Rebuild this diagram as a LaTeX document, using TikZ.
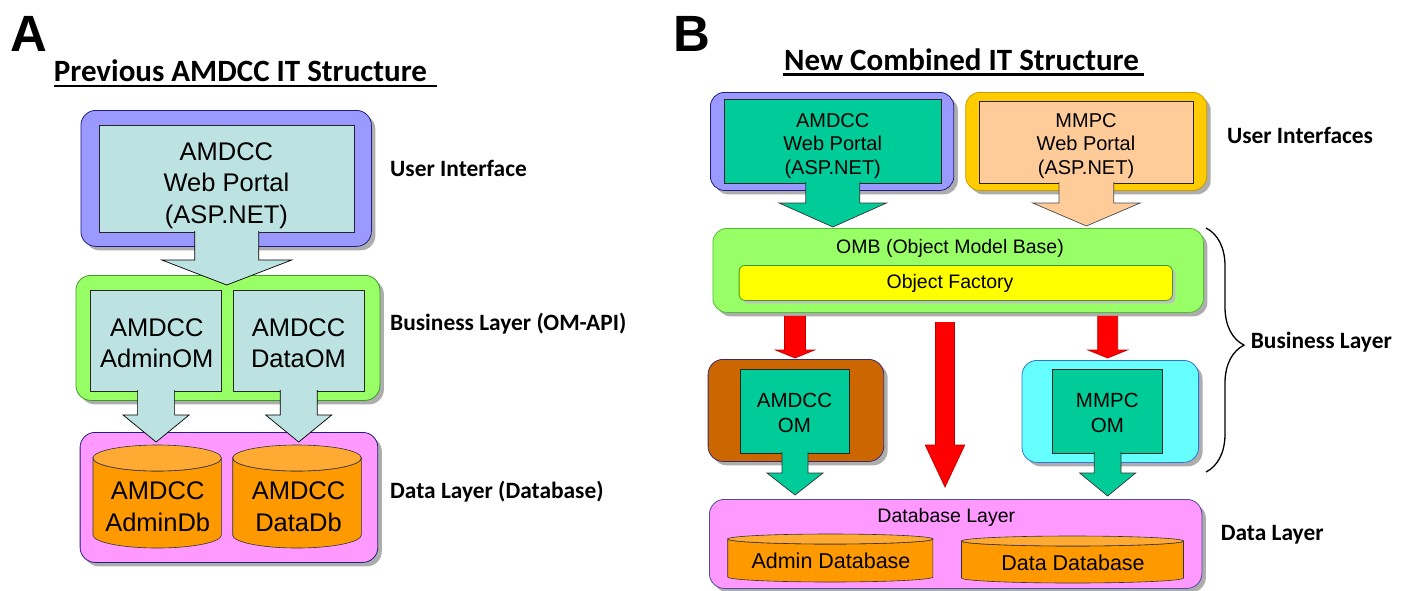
\documentclass[tikz,border=0pt]{standalone}
\usepackage{fontspec}
\setmainfont{Liberation Sans}
\newfontfamily\calib{Carlito}
\usetikzlibrary{calc,shadows,decorations.pathreplacing}
\definecolor{blueF}{HTML}{9999FF}
\definecolor{navy}{HTML}{1F1F80}
\definecolor{lcyan}{HTML}{BCE2E2}
\definecolor{grn}{HTML}{99FF66}
\definecolor{grnD}{HTML}{3C9A2A}
\definecolor{grnL}{HTML}{55BB33}
\definecolor{pinkF}{HTML}{FF99FF}
\definecolor{orng}{HTML}{FF9900}
\definecolor{orngL}{HTML}{FFAA33}
\definecolor{tealB}{HTML}{00CC99}
\definecolor{goldF}{HTML}{FFCC00}
\definecolor{goldD}{HTML}{CC9900}
\definecolor{peach}{HTML}{FFCC99}
\definecolor{yel}{HTML}{FFFF00}
\definecolor{brownF}{HTML}{CC6600}
\definecolor{purpD}{HTML}{3A2A6A}
\definecolor{cyanF}{HTML}{66FFFF}
\definecolor{cyanD}{HTML}{3377CC}
\definecolor{redA}{HTML}{FF0000}
% block arrow: fill, outline, from (y used), tip, shaft half width, head half width, head length
\newcommand\barrow[7]{%
  \fill[#1] let \p1=(#3), \p2=(#4) in (\x2-#5,\y1) -- (\x2-#5,\y2+#7) -- (\x2-#6,\y2+#7) -- (\x2,\y2) -- (\x2+#6,\y2+#7) -- (\x2+#5,\y2+#7) -- (\x2+#5,\y1) -- cycle;
  \draw[#2, line width=0.7pt, line join=miter] let \p1=(#3), \p2=(#4) in (\x2-#5,\y1) -- (\x2-#5,\y2+#7) -- (\x2-#6,\y2+#7) -- (\x2,\y2) -- (\x2+#6,\y2+#7) -- (\x2+#5,\y2+#7) -- (\x2+#5,\y1);}
% database cylinder: cx, y top centre, y bottom centre, rx, ry
\newcommand\dbcyl[5]{%
  \filldraw[fill=orng, draw=black!80, line width=0.6pt] (#1-#4,#2) -- (#1-#4,#3) arc[start angle=180,end angle=360,x radius=#4pt,y radius=#5pt] -- (#1+#4,#2) arc[start angle=0,end angle=-180,x radius=#4pt,y radius=#5pt] -- cycle;
  \filldraw[fill=orngL, draw=black!80, line width=0.6pt] (#1,#2) ellipse[x radius=#4pt, y radius=#5pt];}
\begin{document}
\begin{tikzpicture}[x=1pt,y=-1pt,
  frm/.style={draw, line width=0.8pt, rounded corners=15pt, anchor=north west, inner sep=0pt},
  shd/.style={drop shadow={opacity=1, fill=black!32, shadow xshift=4pt, shadow yshift=-4pt}},
  inbox/.style={draw=black!85, line width=0.7pt, anchor=north west, inner sep=0pt},
  tA/.style={align=center, inner sep=0pt, anchor=north, font=\fontsize{25.5}{31.5}\selectfont},
  tBui/.style={align=center, inner sep=0pt, anchor=north, font=\fontsize{20}{23.3}\selectfont},
  tBom/.style={align=center, inner sep=0pt, anchor=north, font=\fontsize{20.5}{25}\selectfont},
  tB/.style={inner sep=0pt, anchor=base, font=\fontsize{19.5}{22}\selectfont},
  tBdb/.style={inner sep=0pt, anchor=base, font=\fontsize{21.5}{24}\selectfont},
  lab/.style={inner sep=0pt, anchor=base west, font=\calib\bfseries\fontsize{23.4}{26}\selectfont},
  ttl/.style={inner sep=0pt, anchor=base west, font=\calib\bfseries\fontsize{31}{34}\selectfont},
  big/.style={inner sep=0pt, anchor=base west, font=\bfseries\fontsize{51}{55}\selectfont},
]
\useasboundingbox (0,0) rectangle (1411,590);

% ================= Panel A =================
\node[big] (labA) at (10.5,51.7) {A};
\node[ttl] (titA) at (53.7,81.7) {Previous AMDCC IT Structure};
\draw[line width=2.6pt] (53.7,85.8) -- (437,85.8);

\node[frm, shd, fill=blueF, draw=navy, minimum width=290.5pt, minimum height=136pt] (uiA) at (80.5,110) {};
\node[frm, shd, fill=grn, draw=grnD, minimum width=304pt, minimum height=125pt] (bizA) at (75.5,275) {};
\node[frm, shd, fill=pinkF, draw=navy, minimum width=297.7pt, minimum height=130pt] (dbA) at (79.7,432) {};
\node[inbox, fill=lcyan, minimum width=255.8pt, minimum height=107pt] (uiAin) at (98.5,125) {};
\node[inbox, fill=lcyan, minimum width=131.3pt, minimum height=101pt] (admOM) at (90.1,290) {};
\node[inbox, fill=lcyan, minimum width=131.3pt, minimum height=101pt] (datOM) at (232.7,290) {};
\dbcyl{157.2}{458}{535}{64.2}{13}
\dbcyl{297}{458}{535}{64.3}{13}

\coordinate (a1s) at ($(uiAin.south)+(0,-1.5)$);
\coordinate (a1t) at ($(uiAin.south |- bizA.north)+(0,10)$);
\barrow{lcyan}{black}{a1s}{a1t}{32pt}{65pt}{25pt}
\coordinate (a2s) at ($(admOM.south)+(0,-1.5)$);
\coordinate (a2t) at ($(admOM.south |- dbA.north)+(0,10)$);
\barrow{lcyan}{black}{a2s}{a2t}{18.5pt}{33pt}{27pt}
\coordinate (a3s) at ($(datOM.south)+(0,-1.5)$);
\coordinate (a3t) at ($(datOM.south |- dbA.north)+(0,10)$);
\barrow{lcyan}{black}{a3s}{a3t}{18.5pt}{33pt}{27pt}

\node[tA] (uiAt) at (226.4,142) {AMDCC\\Web Portal\\(ASP.NET)};
\node[tA] (admT) at (156.8,318.3) {AMDCC\\AdminOM};
\node[tA] (datT) at (298.5,318.3) {AMDCC\\DataOM};
\node[tA] (admDbT) at (157.7,481.7) {AMDCC\\AdminDb};
\node[tA] (datDbT) at (298.5,481.7) {AMDCC\\DataDb};
\node[lab] (lUIA) at (390,176.7) {User Interface};
\node[lab] (lBLA) at (390,330.7) {Business Layer (OM-API)};
\node[lab] (lDLA) at (390,498.3) {Data Layer (Database)};

% ================= Panel B =================
\node[big] (labB) at (673,51.7) {B};
\node[ttl] (titB) at (784,70.7) {New Combined IT Structure};
\draw[line width=2.7pt] (783,74.8) -- (1144.3,74.8);

\node[frm, shd, rounded corners=14pt, fill=blueF, draw=navy, minimum width=243.4pt, minimum height=98pt] (uiB) at (710,92) {};
\node[frm, shd, rounded corners=14pt, fill=goldF, draw=goldD, minimum width=241pt, minimum height=98pt] (mmB) at (965.3,92) {};
\node[inbox, fill=tealB, minimum width=216.1pt, minimum height=84pt] (uiBin) at (724.4,99) {};
\node[inbox, fill=peach, minimum width=214.7pt, minimum height=82pt] (mmBin) at (978.7,101) {};
\node[frm, shd, rounded corners=14pt, fill=grn, draw=grnL, minimum width=490.5pt, minimum height=84pt] (omb) at (712.5,228) {};
\node[frm, rounded corners=6pt, fill=yel, draw=grnD, minimum width=433.3pt, minimum height=35pt,
      drop shadow={opacity=1, fill=black!25, shadow xshift=3pt, shadow yshift=-3pt}] (fac) at (738.7,265) {};

\coordinate (b1s) at ($(uiBin.south)+(0,-1.5)$);
\coordinate (b1t) at ($(uiBin.south |- omb.north)+(0,-1)$);
\barrow{tealB}{black!80}{b1s}{b1t}{27pt}{53.7pt}{24pt}
\coordinate (b2s) at ($(mmBin.south)+(0,-1.5)$);
\coordinate (b2t) at ($(mmBin.south |- omb.north)+(0,-2)$);
\barrow{peach}{black!70}{b2s}{b2t}{27.4pt}{53.7pt}{23pt}

\node[frm, shd, fill=brownF, draw=purpD, minimum width=175.6pt, minimum height=102pt] (amOM) at (707.7,359) {};
\node[frm, shd, fill=cyanF, draw=cyanD, minimum width=176.6pt, minimum height=102pt] (mmOM) at (1021.6,360) {};
\node[inbox, fill=tealB, minimum width=109.4pt, minimum height=84pt] (amOMin) at (740,369) {};
\node[inbox, fill=tealB, minimum width=110.2pt, minimum height=84pt] (mmOMin) at (1052.2,369) {};
\node[frm, shd, fill=pinkF, draw=navy!80, minimum width=492.5pt, minimum height=89pt] (dbB) at (709,499) {};
\dbcyl{830.3}{539}{577}{102.6}{5}
\dbcyl{1072.5}{541}{578}{111}{5}

\coordinate (r1s) at ($(amOMin.north |- omb.south)+(0,3)$);
\coordinate (r1t) at ($(amOMin.north |- amOM.north)+(0,-1)$);
\barrow{redA}{red!75!black}{r1s}{r1t}{10.5pt}{19.5pt}{8pt}
\coordinate (r2s) at (945,322);
\coordinate (r2t) at (945,487);
\barrow{redA}{red!75!black}{r2s}{r2t}{9.5pt}{19.8pt}{42pt}
\coordinate (r3s) at ($(mmOMin.north |- omb.south)+(0,3)$);
\coordinate (r3t) at ($(mmOMin.north |- mmOM.north)+(0,-2)$);
\barrow{redA}{red!75!black}{r3s}{r3t}{10pt}{19.6pt}{8pt}

\coordinate (c1s) at ($(amOMin.south)+(0,-1.5)$);
\coordinate (c1t) at ($(amOMin.south |- dbB.north)+(0,-4)$);
\barrow{tealB}{black!80}{c1s}{c1t}{13pt}{28pt}{22pt}
\coordinate (c2s) at ($(mmOMin.south)+(0,-1.5)$);
\coordinate (c2t) at ($(mmOMin.south |- dbB.north)+(0,-3)$);
\barrow{tealB}{black!80}{c2s}{c2t}{13.4pt}{28pt}{23pt}

\node[tBui] (uiBt) at (832.7,113.3) {AMDCC\\Web Portal\\(ASP.NET)};
\node[tBui] (mmBt) at (1086,113.3) {MMPC\\Web Portal\\(ASP.NET)};
\node[tB] (ombT) at (950,253.3) {OMB (Object Model Base)};
\node[tB] (facT) at (950,288) {Object Factory};
\node[tBom] (amOMt) at (794.5,393.3) {AMDCC\\OM};
\node[tBom] (mmOMt) at (1107.3,393.3) {MMPC\\OM};
\node[tB] (dbBt) at (946.3,522.7) {Database Layer};
\node[tBdb] (admDbB) at (831,568) {Admin Database};
\node[tBdb] (datDbB) at (1073,570) {Data Database};

\node[lab] (lUIB) at (1226.8,143.3) {User Interfaces};
\node[lab] (lBLB) at (1250.6,348.3) {Business Layer};
\node[lab] (lDLB) at (1220.6,540) {Data Layer};

\coordinate (brT) at (1206,228);
\coordinate (brB) at (1206,472);
\draw[line width=1.3pt, decorate, decoration={brace, amplitude=38pt, aspect=0.48}] (brT) -- (brB);
\end{tikzpicture}
\end{document}
